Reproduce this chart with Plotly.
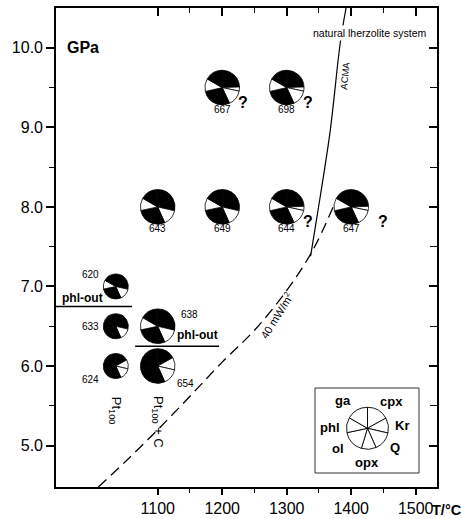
import plotly.graph_objects as go

# ---------------- data ----------------
X_RANGE = [942.3, 1533.0]
Y_RANGE = [4.48, 10.5]
X_TICKS = [1100, 1200, 1300, 1400, 1500]
X_TICK_LABELS = ["1100", "1200", "1300", "1400", "1500"]
X_MINOR = [1150, 1250, 1350, 1450]
Y_TICKS = [5, 6, 7, 8, 9, 10]
Y_TICK_LABELS = ["5.0", "6.0", "7.0", "8.0", "9.0", "10.0"]
Y_MINOR = [5.5, 6.5, 7.5, 8.5, 9.5]

# phases in legend order (clockwise from 12 o'clock)
PHASES = ["cpx", "Kr", "Q", "opx", "ol", "phl", "ga"]
LEGEND_SECTORS = [61, 42, 53, 41, 61, 42, 60]

RUN_IDS = ["643", "649", "644", "647", "667", "698", "620", "633", "624", "638", "654"]
RUN_T = [1100, 1200, 1300, 1400, 1200, 1300, 1035, 1035, 1035, 1100, 1100]
RUN_P = [8.0, 8.0, 8.0, 8.0, 9.5, 9.5, 7.0, 6.5, 6.0, 6.5, 6.0]
RUN_SERIES = ["Pt100+C", "Pt100+C", "Pt100+C", "Pt100+C", "Pt100+C", "Pt100+C",
              "Pt100", "Pt100", "Pt100", "Pt100+C", "Pt100+C"]
RUN_UNCERTAIN = [False, False, True, True, True, True, False, False, False, False, False]
# sector sizes (deg) per phase for each run
SECT_A = [61, 42, 53, 41, 61, 42, 60]
SECT_B = [88, 14, 53, 41, 61, 43, 60]
RUN_SECTORS = [SECT_A, SECT_A, SECT_B, SECT_B, SECT_B, SECT_B,
               SECT_A, SECT_A, SECT_A, SECT_A, SECT_A]
# phase present (1 = black) / absent (0 = white)   cpx Kr Q opx ol phl ga
RUN_PRESENT = [
    [1, 1, 0, 1, 1, 0, 1],  # 643
    [1, 1, 0, 1, 1, 0, 1],  # 649
    [1, 0, 0, 1, 1, 0, 1],  # 644
    [1, 0, 0, 1, 1, 0, 1],  # 647
    [1, 0, 0, 1, 1, 0, 1],  # 667
    [1, 0, 0, 1, 1, 0, 1],  # 698
    [1, 1, 0, 1, 1, 0, 1],  # 620
    [1, 1, 0, 1, 1, 1, 1],  # 633
    [1, 0, 0, 1, 1, 1, 1],  # 624
    [1, 1, 0, 1, 1, 0, 1],  # 638
    [1, 0, 0, 1, 1, 1, 1],  # 654
]

GEO_T = [1008, 1050, 1100, 1150, 1200, 1250, 1300, 1340, 1372]
GEO_P = [4.48, 4.80, 5.20, 5.62, 6.05, 6.45, 6.95, 7.45, 8.0]
ACMA_T = [1337, 1347, 1367, 1383, 1392]
ACMA_P = [7.38, 7.88, 8.93, 10.06, 10.5]
PHLOUT1_T = [942.3, 1060]
PHLOUT1_P = [6.75, 6.75]
PHLOUT2_T = [1065, 1195]
PHLOUT2_P = [6.25, 6.25]

# ---------------- layout geometry ----------------
W, H = 461, 519
ML, MR, MT, MB = 56, 24, 8, 32
PW, PH = W - ML - MR, H - MT - MB
FONT = "Liberation Sans, Arial, Helvetica, sans-serif"


def fx(t):
    return (t - X_RANGE[0]) / (X_RANGE[1] - X_RANGE[0])


def fy(p):
    return (p - Y_RANGE[0]) / (Y_RANGE[1] - Y_RANGE[0])


def px2paper(px, py):
    return (px - ML) / PW, (H - MB - py) / PH


fig = go.Figure()

# lines
fig.add_trace(go.Scatter(x=GEO_T, y=GEO_P, mode="lines", line=dict(color="black", width=1.3, dash="11px,6px"),
                         line_shape="spline", hoverinfo="skip", showlegend=False))
fig.add_trace(go.Scatter(x=ACMA_T, y=ACMA_P, mode="lines", line=dict(color="black", width=1.2),
                         line_shape="spline", hoverinfo="skip", showlegend=False))
for tx, py in [(PHLOUT1_T, PHLOUT1_P), (PHLOUT2_T, PHLOUT2_P)]:
    fig.add_trace(go.Scatter(x=tx, y=py, mode="lines", line=dict(color="black", width=1.5),
                             hoverinfo="skip", showlegend=False))
# dummy trace for mirrored inside ticks
fig.add_trace(go.Scatter(x=[None], y=[None], xaxis="x2", yaxis="y2", hoverinfo="skip", showlegend=False))


# pies
def radius(series):
    return 12.5 if series == "Pt100" else 17.3


for rid, t, p, ser, sect, pres in zip(RUN_IDS, RUN_T, RUN_P, RUN_SERIES, RUN_SECTORS, RUN_PRESENT):
    r = radius(ser)
    cx, cy = fx(t), fy(p)
    rx, ry = r / PW, r / PH
    fig.add_trace(go.Pie(
        values=sect, labels=PHASES, sort=False, direction="clockwise", rotation=0,
        marker=dict(colors=["black" if v else "white" for v in pres], line=dict(color="black", width=0.8)),
        textinfo="none", hoverinfo="skip", showlegend=False,
        domain=dict(x=[cx - rx, cx + rx], y=[cy - ry, cy + ry])))

# legend pie
lcx, lcy = px2paper(367.5, 428.3)
lr = 21
fig.add_trace(go.Pie(
    values=LEGEND_SECTORS, labels=PHASES, sort=False, direction="clockwise", rotation=0,
    marker=dict(colors=["white"] * 7, line=dict(color="black", width=0.9)),
    textinfo="none", hoverinfo="skip", showlegend=False,
    domain=dict(x=[lcx - lr / PW, lcx + lr / PW], y=[lcy - lr / PH, lcy + lr / PH])))

ann = []
# run labels
LABEL_OFFSETS = {
    "643": (0, -22), "649": (0, -22), "644": (0, -22), "647": (0, -22),
    "667": (0, -22), "698": (0, -22),
    "620": (-25, 12), "633": (-25, 0), "624": (-25, -13),
    "638": (32, 12), "654": (28, -17),
}
for rid, t, p, unc in zip(RUN_IDS, RUN_T, RUN_P, RUN_UNCERTAIN):
    dx, dy = LABEL_OFFSETS[rid]
    ann.append(dict(x=t, y=p, xref="x", yref="y", text=rid, showarrow=False, xshift=dx, yshift=dy,
                    xanchor="center", yanchor="middle",
                    font=dict(family=FONT, size=10, color="black")))
    if unc:
        qdx = 32 if rid == "647" else 21
        ann.append(dict(x=t, y=p, xref="x", yref="y", text="<b>?</b>", showarrow=False, xshift=qdx, yshift=-15,
                        xanchor="center", yanchor="middle",
                        font=dict(family=FONT, size=16, color="black")))

ann += [
    dict(x=956, y=10.0, xref="x", yref="y", text="<b>GPa</b>", showarrow=False, xanchor="left", yanchor="middle",
         font=dict(family=FONT, size=16, color="black")),
    dict(x=1427.6, y=10.19, xref="x", yref="y", text="natural lherzolite system", showarrow=False,
         xanchor="center", yanchor="middle",
         bgcolor="white", borderpad=1, font=dict(family=FONT, size=10.5, color="black")),
    dict(x=1390.4, y=9.65, xref="x", yref="y", text="ACMA", showarrow=False, textangle=-84,
         xanchor="center", yanchor="middle",
         font=dict(family=FONT, size=9.5, color="black")),
    dict(x=1283.4, y=6.63, xref="x", yref="y", text="40 mW/m<sup>2</sup>", showarrow=False, textangle=-58,
         xanchor="center", yanchor="middle",
         font=dict(family=FONT, size=11, color="black")),
    dict(x=948.5, y=6.86, xref="x", yref="y", text="<b>phl-out</b>", showarrow=False, xanchor="left",
         yanchor="middle", font=dict(family=FONT, size=12, color="black")),
    dict(x=1196.6, y=6.39, xref="x", yref="y", text="<b>phl-out</b>", showarrow=False, xanchor="right",
         yanchor="middle", font=dict(family=FONT, size=12, color="black")),
    dict(x=1033.8, y=5.45, xref="x", yref="y", text="Pt<sub>100</sub>", showarrow=False, textangle=90,
         xanchor="center", yanchor="middle", font=dict(family=FONT, size=13, color="black")),
    dict(x=1100, y=5.30, xref="x", yref="y", text="Pt<sub>100</sub> + C", showarrow=False, textangle=90,
         xanchor="center", yanchor="middle", font=dict(family=FONT, size=13, color="black")),
]
# T/°C after last tick label
tx, ty = px2paper(431, 510)
ann.append(dict(x=tx, y=ty, xref="paper", yref="paper", text="<b>T/°C</b>", showarrow=False,
                xanchor="left", yanchor="middle", borderpad=0,
                font=dict(family=FONT, size=14.5, color="black")))
# legend labels
for lab, (lx, ly) in zip(["ga", "cpx", "phl", "Kr", "ol", "Q", "opx"],
                         [(343.3, 400), (391, 401.7), (330, 427.7), (401.7, 425.7), (338.3, 448.3), (395, 447.3), (366.7, 462.3)]):
    ax_, ay_ = px2paper(lx, ly)
    ann.append(dict(x=ax_, y=ay_, xref="paper", yref="paper", text=f"<b>{lab}</b>", showarrow=False,
                    xanchor="center", yanchor="middle",
                    font=dict(family=FONT, size=13, color="black")))

bx0, by0 = px2paper(315, 473)
bx1, by1 = px2paper(419, 388)

axis_common = dict(showgrid=False, zeroline=False, color="black", automargin=False)
fig.update_layout(
    width=W, height=H, margin=dict(l=ML, r=MR, t=MT, b=MB, autoexpand=False),
    paper_bgcolor="white", plot_bgcolor="white",
    font=dict(family=FONT, color="black"),
    xaxis=dict(range=X_RANGE, tickmode="array", tickvals=X_TICKS, ticktext=X_TICK_LABELS,
               ticks="outside", ticklen=6, tickwidth=1.5, tickcolor="black",
               minor=dict(tickmode="array", tickvals=X_MINOR, ticks="outside", ticklen=4, tickwidth=1.2, tickcolor="black"),
               showline=True, linewidth=1.6, linecolor="black", mirror=True,
               tickfont=dict(family=FONT, size=16, color="black"), **axis_common),
    yaxis=dict(range=Y_RANGE, tickmode="array", tickvals=Y_TICKS, ticktext=Y_TICK_LABELS,
               ticks="outside", ticklen=8, tickwidth=1.5, tickcolor="black",
               minor=dict(tickmode="array", tickvals=Y_MINOR, ticks="outside", ticklen=5, tickwidth=1.2, tickcolor="black"),
               showline=True, linewidth=1.6, linecolor="black", mirror=True,
               tickfont=dict(family=FONT, size=16, color="black"), **axis_common),
    xaxis2=dict(range=X_RANGE, overlaying="x", side="top", tickmode="array", tickvals=X_TICKS,
                ticks="inside", ticklen=8, tickwidth=1.5, tickcolor="black", showticklabels=False,
                minor=dict(tickmode="array", tickvals=X_MINOR, ticks="inside", ticklen=5, tickwidth=1.2, tickcolor="black"),
                showline=False, **axis_common),
    yaxis2=dict(range=Y_RANGE, overlaying="y", side="right", tickmode="array", tickvals=Y_TICKS,
                ticks="inside", ticklen=8, tickwidth=1.5, tickcolor="black", showticklabels=False,
                minor=dict(tickmode="array", tickvals=Y_MINOR, ticks="inside", ticklen=7, tickwidth=1.2, tickcolor="black"),
                showline=False, **axis_common),
    annotations=ann,
    shapes=[dict(type="rect", xref="paper", yref="paper", x0=bx0, y0=by0, x1=bx1, y1=by1,
                 line=dict(color="#333", width=1), fillcolor="rgba(0,0,0,0)")],
)

fig.write_html("out.html", config={"displayModeBar": False},
               post_script="document.body.style.margin='0';document.body.style.padding='0';"
                           "document.body.style.overflow='hidden';")
